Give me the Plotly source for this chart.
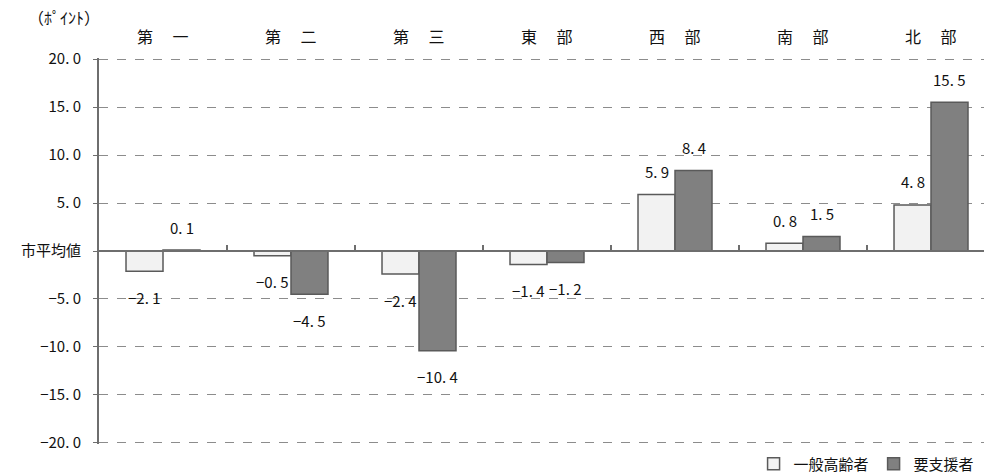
import plotly.graph_objects as go

# 地区別の市平均値との差（ポイント）
districts = ["第　 一", "第　 二", "第　 三", "東　 部", "西　 部", "南　 部", "北　 部"]
general_elderly = [-2.1, -0.5, -2.4, -1.4, 5.9, 0.8, 4.8]
support_needed = [0.1, -4.5, -10.4, -1.2, 8.4, 1.5, 15.5]
series_names = ["一般高齢者", "要支援者"]
y_ticks = [20, 15, 10, 5, 0, -5, -10, -15, -20]

FONT = "Noto Sans CJK JP"
TEXT = "#111111"
EDGE = "#5a5a5a"
BARGAP = 0.422


def fmt(v):
    s = f"{abs(v):.1f}".replace(".", ". ")
    return ("−" + s) if v < 0 else s


def tick_text(v):
    return "市平均値" if v == 0 else fmt(v)


fig = go.Figure()
fills = ["#f2f2f2", "#808080"]
for name, vals, fill in zip(series_names, [general_elderly, support_needed], fills):
    fig.add_trace(go.Bar(
        x=districts, y=vals, name=name,
        marker=dict(color=fill, line=dict(color=EDGE, width=1.5)),
    ))

# value labels just beyond each bar end
half = (1 - BARGAP) / 4
annotations = []
for k, vals in enumerate([general_elderly, support_needed]):
    off = -half if k == 0 else half
    for j, v in enumerate(vals):
        annotations.append(dict(
            x=j + off, y=v, xref="x", yref="y", text=fmt(v), showarrow=False,
            yanchor="middle", yshift=23 if v >= 0 else -26,
            font=dict(family=FONT, size=15, color=TEXT),
        ))

# district names across the top
for j, d in enumerate(districts):
    annotations.append(dict(
        x=j, y=1, xref="x", yref="paper", text=d, showarrow=False,
        yanchor="middle", yshift=22,
        font=dict(family=FONT, size=16, color=TEXT),
    ))

annotations.append(dict(
    x=0, y=1, xref="paper", yref="paper", text="（ﾎﾟｲﾝﾄ）", showarrow=False,
    xanchor="right", yanchor="middle", yshift=41, xshift=3,
    font=dict(family=FONT, size=16, color=TEXT),
))

fig.update_layout(
    width=984, height=475,
    margin=dict(l=99, r=0, t=58, b=31, autoexpand=False),
    paper_bgcolor="white", plot_bgcolor="white",
    barmode="group", bargap=BARGAP, bargroupgap=0,
    font=dict(family=FONT, size=15, color=TEXT),
    showlegend=True,
    legend=dict(
        orientation="h", x=0.995, xanchor="right", y=-0.052, yanchor="middle",
        font=dict(family=FONT, size=15, color=TEXT), itemwidth=30,
        traceorder="normal", bgcolor="rgba(0,0,0,0)",
    ),
    annotations=annotations,
    xaxis=dict(
        type="category", range=[-0.5, 6.414],
        anchor="free", position=0.5,
        showline=True, linecolor="#6e6e6e", linewidth=2,
        ticks="inside", tickson="boundaries", ticklen=5, tickcolor="#6e6e6e", tickwidth=1.5,
        showticklabels=False, showgrid=False, zeroline=False,
    ),
    yaxis=dict(
        range=[-20.12, 20.12], domain=[0, 1],
        tickmode="array", tickvals=y_ticks, ticktext=[tick_text(v) for v in y_ticks],
        showline=True, linecolor="#6e6e6e", linewidth=2,
        ticks="outside", ticklen=4, tickcolor="#6e6e6e",
        ticklabelstandoff=9,
        showgrid=True, gridcolor="#8c8c8c", griddash="dash", gridwidth=1,
        zeroline=False,
        tickfont=dict(family=FONT, size=15, color=TEXT),
    ),
)

fig.write_html("out.html")
